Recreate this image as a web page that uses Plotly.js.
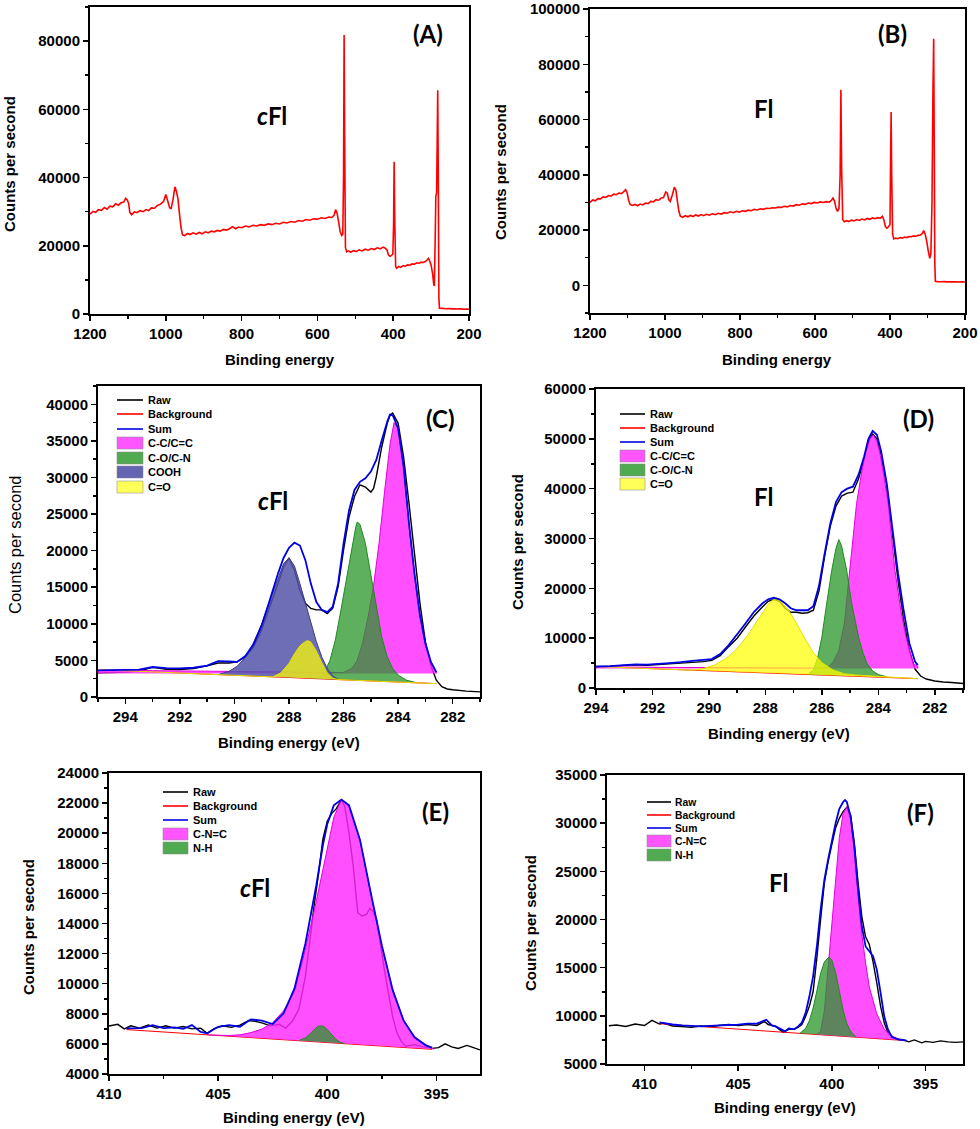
<!DOCTYPE html>
<html><head><meta charset="utf-8">
<script src="https://cdn.plot.ly/plotly-3.0.1.min.js"></script>
<style>html,body{margin:0;padding:0;background:#fff}#chart{width:980px;height:1129px}</style>
</head><body><div id="chart"></div>
<script>
// ---------- (A) cFl survey ----------
const A_E = [1200,1192,1185,1178,1170,1162,1155,1148,1140,1132,1125,1118,1111,1106,1102,1098,1095,1090,1083,1076,1068,1060,1052,1045,1038,1030,1022,1014,1006,1000,995,990,986,981,976,972,968,964,960,956,950,943,936,928,920,912,904,896,888,880,872,864,856,848,840,832,824,816,808,800,790,780,770,760,750,740,730,720,710,700,690,680,670,660,650,640,630,620,610,600,590,580,570,562,556,552,548,544,540,536,533,531,529.5,528,526,523,518,512,505,498,490,482,474,466,458,450,442,434,427,421,416,413,409,405,401,399,397.5,396,393.5,391,386,380,374,368,362,356,350,344,338,332,326,320,314,310,307,304,300,296,293,291.5,289.5,287.5,285.5,284,282.5,281,279.5,278,270,262,254,246,238,230,222,214,206,200];
const A_cps = [29300,30100,29800,30600,30400,31200,30700,31600,31400,32300,31900,32600,32800,33900,33500,32400,29800,29100,29900,29700,30300,30000,30600,30300,31100,31000,31800,32200,33000,35000,33200,31200,30800,33500,37300,36000,33800,29500,25500,23200,23000,23600,23300,23800,23400,23900,23500,24100,23800,24300,24100,24500,24300,24800,24600,25000,25600,25000,25500,25300,25800,25500,26000,25800,26200,26000,26400,26200,26600,26400,26900,26700,27100,26900,27400,27200,27700,27500,27900,27800,28200,28000,28400,28300,28900,30600,29500,27000,24200,23000,23400,40000,81800,50000,19500,18200,18500,18100,18600,18300,18800,18500,19000,18700,19200,18900,19400,19100,19600,19300,18700,17400,16900,17100,17600,26000,44600,28000,14000,13400,13900,13700,14200,14000,14400,14300,14700,14600,15000,14900,15200,15100,15500,15900,16300,15700,14300,11800,8600,8200,20000,34500,35500,50000,65600,40000,5000,1700,1650,1550,1600,1500,1550,1450,1500,1400,1450,1400];

// ---------- (B) Fl survey ----------
const B_E = [1200,1193,1186,1179,1172,1165,1158,1151,1144,1137,1130,1123,1116,1110,1105,1101,1097,1093,1087,1080,1073,1066,1059,1052,1045,1038,1031,1024,1017,1010,1004,998,994,990,986,981,975,971,967,963,959,953,946,939,932,925,918,911,904,897,890,882,874,866,858,850,842,834,826,818,810,802,794,786,778,770,762,754,746,738,730,722,714,706,698,690,682,674,666,658,650,642,634,626,618,610,602,594,586,578,570,562,556,552,548,544,540,536,533,531,529,526,522,516,510,503,496,489,482,475,468,461,454,447,440,433,426,420,416,412,408,404,400,398.5,397,395.5,393,390,385,379,373,367,361,355,349,343,337,331,325,319,314,310,306,302,298,294,291,288,285.5,283.5,282,280.5,279,272,264,256,248,240,232,224,216,208,200];
const B_cps = [30000,30900,30600,31400,31300,32000,31800,32500,32300,33000,32800,33400,33200,33900,34600,33500,30800,29300,28900,29300,28800,29400,29100,29800,29600,30400,30200,31000,30800,31600,31800,33800,33400,31000,30400,32500,35500,34500,30500,26800,25000,24600,25200,24800,25300,24900,25500,25100,25600,25200,25700,25400,25900,25600,26100,25800,26300,26100,26600,26300,26800,26500,27000,26800,27200,27000,27500,27300,27700,27500,27900,27800,28100,28000,28300,28200,28600,28400,28900,28700,29200,29000,29500,29300,29800,29600,30000,29800,30200,30000,30300,30100,30800,31600,30500,28000,26800,27800,40000,70800,42000,23800,23000,23400,23100,23600,23300,23800,23500,24000,23700,24200,23900,24400,24100,24500,24300,25000,23500,21200,20700,21200,22000,45000,62700,40000,18500,16800,17100,16900,17300,17100,17500,17300,17700,17600,17900,17800,18100,18200,18800,19800,18400,15800,12500,9800,11500,30000,70000,89200,50000,8000,1500,1350,1300,1350,1250,1300,1250,1300,1200,1250,1200];

// ---------- (C) cFl C1s ----------
const C_raw_E = [295,294.5,294,293.5,293,292.5,292,291.5,291,290.6,290.2,289.9,289.6,289.3,289.0,288.7,288.4,288.2,288.0,287.8,287.6,287.4,287.2,287.0,286.8,286.6,286.4,286.2,286.0,285.8,285.6,285.4,285.2,285.0,284.9,284.8,284.6,284.4,284.3,284.2,284.0,283.8,283.6,283.4,283.2,283.0,282.8,282.6,282.4,282.2,282.0,281.5,281];
const C_raw = [3300,3350,3400,3550,4050,3800,3750,3900,4250,4650,4650,4800,5500,6800,9200,12400,15500,17800,19000,17300,14600,12800,12100,11900,11900,11400,12100,15100,20100,24600,27400,29000,28700,28000,28500,30100,34200,37400,38500,38800,37400,32800,26400,19600,12800,7500,4300,2300,1400,1100,1000,800,700];
const C_sum_E = [295,294,293.5,293,292.5,292,291.5,291,290.6,290.2,289.9,289.6,289.3,289.0,288.7,288.4,288.2,288.0,287.8,287.6,287.4,287.2,287.0,286.8,286.6,286.4,286.2,286.0,285.8,285.6,285.4,285.2,285.0,284.8,284.6,284.4,284.3,284.2,284.0,283.8,283.6,283.4,283.2,283.0,282.8,282.6];
const C_sum = [3650,3700,3750,4100,3950,3900,4000,4300,4900,4850,4800,5600,7200,9800,13300,16900,19000,20400,21100,20700,18700,15500,13000,11900,11600,12300,15500,21000,25500,28300,29400,29900,30800,32400,35100,37600,38600,38500,36700,31500,23700,16900,11200,7300,4800,3400];
const C_bg_E = [295,282.6];
const C_bg = [3740,1824];
const C_cc_E = [295,295,293,291,289,287.5,286.5,286.0,285.7,285.5,285.3,285.1,284.9,284.7,284.5,284.3,284.15,284.0,283.8,283.6,283.4,283.2,283.0,282.8,282.6,282.6];
const C_cc = [3200,3700,3600,3500,3420,3350,3300,3350,3900,5000,7400,11000,15200,21000,28000,34500,37500,36700,31500,23300,16400,10900,7100,4800,3400,3200];
const C_co_E = [286.9,286.7,286.5,286.3,286.1,285.9,285.7,285.55,285.5,285.4,285.2,285.0,284.8,284.6,284.4,284.2,284.0,283.7,283.4];
const C_co = [2480,3300,5000,7800,11800,16200,20500,23300,23900,23600,21000,16900,12300,8200,5500,3900,3000,2300,2020];
const C_cooh_E = [290.6,290.2,289.9,289.6,289.3,289.0,288.7,288.4,288.2,288.0,287.8,287.6,287.4,287.2,287.0,286.8,286.6,286.4,286.2];
const C_cooh = [3050,3500,4200,5400,7400,10000,13200,16300,18200,19000,17900,15500,12800,10000,7600,5500,3900,2900,2400];
const C_cdo_E = [295,288.6,288.3,288.0,287.8,287.6,287.4,287.3,287.2,287.0,286.8,286.6,286.4,286.2,282.6];
const C_cdo = [3740,2750,3300,4600,5900,7000,7600,7700,7500,6300,4700,3300,2600,2380,1824];

// ---------- (D) Fl C1s ----------
const D_raw_E = [294,293.5,293,292.6,292.2,291.8,291.4,291,290.6,290.2,289.9,289.6,289.3,289.0,288.7,288.4,288.1,287.9,287.7,287.5,287.3,287.1,286.9,286.7,286.5,286.3,286.1,285.9,285.7,285.5,285.3,285.1,284.9,284.7,284.5,284.35,284.2,284.05,283.9,283.7,283.5,283.3,283.1,282.9,282.7,282.5,282.3,282.0,281.7,281.4,281];
const D_raw = [4300,4350,4550,4650,4550,4700,4850,5000,5150,5300,5550,6500,8300,10000,12300,14500,16300,17400,17800,17400,16000,15200,15200,15000,15100,15600,19500,26500,32500,36500,38500,39100,39300,42000,46000,49500,51000,50000,47000,40500,31000,21500,13500,7500,3800,2400,1800,1400,1200,1100,900];
const D_sum_E = [294,293.5,293,292.6,292.2,291.8,291.4,291,290.6,290.2,289.9,289.6,289.3,289.0,288.7,288.4,288.1,287.9,287.7,287.5,287.3,287.1,286.9,286.7,286.5,286.3,286.1,285.9,285.7,285.5,285.3,285.1,284.9,284.7,284.5,284.35,284.2,284.05,283.9,283.7,283.5,283.3,283.1,282.9,282.7,282.6];
const D_sum = [4300,4400,4600,4750,4700,4850,5000,5200,5450,5650,5800,6800,8600,10800,13000,15300,17000,17800,18100,17800,17000,16000,15600,15600,15600,16400,20500,27000,33000,37300,39300,40000,40400,42800,46500,50000,51600,50800,47500,41000,32000,23000,15500,9000,5300,4600];
const D_bg_E = [294,282.6];
const D_bg = [4300,1875];
const D_cc_E = [294,294,292,290,288,286.5,285.8,285.6,285.4,285.2,285.06,284.9,284.77,284.6,284.47,284.3,284.18,284.05,283.94,283.8,283.65,283.41,283.2,283.02,282.85,282.76,282.6,282.6];
const D_cc = [3900,4300,4150,4050,4000,4000,4000,5200,7500,13000,21000,29500,37000,43000,47000,50000,50800,49500,47000,42500,37000,23600,15500,10200,6800,4900,4300,3900];
const D_co_E = [286.5,286.3,286.15,286.0,285.83,285.65,285.5,285.4,285.3,285.12,284.94,284.7,284.55,284.4,284.2,284.0,283.7];
const D_co = [2700,3600,6000,10200,16900,23600,28000,29800,28500,23600,16900,10200,7200,4900,3400,2700,2250];
const D_cdo_E = [294,290.6,290.2,289.8,289.4,289.0,288.6,288.2,287.9,287.7,287.5,287.2,286.9,286.6,286.3,286.0,285.6,285.2,284.8,282.6];
const D_cdo = [4300,3580,3900,4600,5900,7900,10800,14300,16800,17900,17600,15800,13000,9900,7100,5100,3600,2850,2600,1875];

// ---------- (E) cFl N1s ----------
const E_raw_E = [410,409.6,409.3,409,408.6,408.2,407.8,407.4,407,406.6,406.2,405.8,405.5,405.2,404.8,404.4,404,403.6,403.3,403,402.6,402.2,401.9,401.6,401.3,401,400.8,400.6,400.4,400.2,400,399.8,399.6,399.35,399.2,399,398.8,398.6,398.4,398.2,398.05,397.9,397.75,397.6,397.4,397.2,397,396.8,396.6,396.4,396,395.6,395.2,394.9,394.6,394.3,394,393.6,393.3,393];
const E_raw = [7190,7300,7000,7200,7050,7250,7050,7200,7050,7150,7000,7050,6700,7000,7200,7100,7250,7550,7500,7400,7200,7300,7050,7500,8300,10500,12800,15200,17300,19600,20800,21300,21600,22200,21800,20000,17700,14700,14500,14600,15000,14800,14300,13000,11100,9400,7800,6700,6150,5850,5950,5800,5700,5750,6000,5800,5700,5900,5750,5600];
const E_sum_E = [409.2,408.5,408,407.5,407,406.6,406.2,405.8,405.5,405,404.5,404,403.5,403,402.5,402,401.5,401,400.5,400.2,400,399.7,399.35,399,398.5,398,397.5,397,396.5,396,395.5,395.2];
const E_sum = [7030,7050,7250,7050,7100,7000,7250,6800,6700,7140,7250,7140,7630,7540,7320,8030,9690,12670,16540,19200,20590,21850,22230,21850,19570,15990,12560,9570,7540,6430,5920,5750];
const E_bg_E = [409.2,395.2];
const E_bg = [6950,5640];
const E_cnc_E = [405.5,404.5,404.0,403.5,403.0,402.5,402.0,401.5,401.0,400.5,400.0,399.7,399.35,399.0,398.5,398.0,397.5,397.0,396.5,396.0,395.5,395.1];
const E_cnc = [6600,6560,6600,6750,6980,7400,8200,9500,12300,15500,18950,21050,22230,21750,19550,16000,12450,9600,7600,6500,5950,5640];
const E_nh_E = [401.3,401.0,400.8,400.6,400.45,400.3,400.15,400.0,399.8,399.6,399.4,399.2];
const E_nh = [6220,6400,6650,6950,7150,7200,7150,6950,6600,6300,6100,6020];

// ---------- (F) Fl N1s ----------
const F_raw_E = [411.9,411.5,411,410.5,410,409.6,409.2,409,408.5,408,407.5,407,406.5,406,405.5,405,404.5,404,403.6,403.4,403,402.6,402.3,402,401.8,401.6,401.4,401.2,401,400.8,400.6,400.4,400.2,400,399.8,399.6,399.4,399.2,399,398.8,398.6,398.4,398.2,398,397.8,397.6,397.4,397.2,397,396.6,396.2,395.9,395.6,395.2,395,394.6,394.2,393.8,393.4,393];
const F_raw = [8970,9050,8900,9150,9000,9530,9150,9250,8950,8900,8800,8950,8900,9000,9100,9000,9100,9000,9420,9100,8900,8280,8600,8650,8800,9100,9940,11000,12500,16000,20000,23800,26000,27800,29500,30500,31200,31650,30850,27900,23800,20300,18200,17400,15600,13400,11000,9250,8200,7600,7520,7300,7500,7200,7350,7250,7400,7300,7250,7300];
const F_sum_E = [409.2,408.5,408,407.5,407,406.5,406,405.5,405,404.5,404,403.5,403.2,403,402.5,402.3,402,401.8,401.6,401.4,401.2,401,400.8,400.6,400.4,400.2,400,399.8,399.6,399.4,399.3,399.2,399,398.8,398.6,398.4,398.2,398,397.8,397.6,397.4,397.2,397,396.8,396.4,396];
const F_sum = [9320,9100,9000,8950,8900,8950,9000,9050,9080,9200,9200,9600,9000,8900,8390,8700,8600,8900,9300,10300,12000,14100,17200,21000,24100,26200,28100,30000,31500,32200,32400,32200,30700,27600,23100,19300,17200,16700,16200,14800,12400,9900,8560,7800,7520,7420];
const F_bg_E = [409.2,396.0];
const F_bg = [9180,7420];
const F_cnc_E = [400.8,400.6,400.4,400.2,400.0,399.8,399.6,399.4,399.2,399.0,398.8,398.6,398.4,398.2,398.0,397.6,397.2,396.8,396.4,396.1];
const F_cnc = [8060,8400,10500,15000,20000,24500,28500,31000,31650,30500,27000,22500,18500,15500,13000,10200,8600,7900,7550,7430];
const F_nh_E = [401.7,401.4,401.2,401.0,400.8,400.6,400.4,400.16,400.0,399.8,399.6,399.4,399.2,399.0,398.7];
const F_nh = [8180,8700,9500,10800,12600,14400,15600,16090,15800,14500,12600,10600,9200,8400,7800];

// ---------- labels ----------
const panelLabels = ['(A)','(B)','(C)','(D)','(E)','(F)'];
const sampleLabels = ['<i>c</i>Fl','Fl','<i>c</i>Fl','Fl','<i>c</i>Fl','Fl'];
const yTitle = 'Counts per second';
const xTitles = ['Binding energy','Binding energy','Binding energy (eV)','Binding energy (eV)','Binding energy (eV)','Binding energy (eV)'];
const legC = ['Raw','Background','Sum','C-C/C=C','C-O/C-N','COOH','C=O'];
const legD = ['Raw','Background','Sum','C-C/C=C','C-O/C-N','C=O'];
const legE = ['Raw','Background','Sum','C-N=C','N-H'];
const legF = ['Raw','Background','Sum','C-N=C','N-H'];

// ---------- styling ----------
const W = 980, H = 1129;
const px = x => x / W, py = y => 1 - y / H;
const COL = {
  raw:'#000000', bg:'#ff0000', sum:'#0000e6', survey:'#ff0000',
  pink:{fill:'rgba(255,40,255,0.82)', line:'rgb(225,0,225)', key:'rgb(255,85,255)'},
  green:{fill:'rgba(40,150,40,0.75)', line:'rgb(30,140,30)', key:'rgb(80,170,80)'},
  cooh:{fill:'rgba(85,85,170,0.85)', line:'rgb(60,60,140)', key:'rgb(100,100,178)'},
  yellow:{fill:'rgba(255,255,0,0.72)', line:'rgb(225,225,0)', key:'rgb(255,255,90)'}
};
const P = {
  1:{l:90,r:469,t:7,b:314, xr:[1200,200], yr:[0,90000], xd:200, xm:100, yd:20000, ym:10000},
  2:{l:590,r:965,t:9,b:313, xr:[1200,200], yr:[-10000,100000], xd:200, xm:100, yd:20000, ym:10000},
  3:{l:98,r:480,t:386,b:697, xr:[295,281], yr:[0,42500], xd:2, xm:1, yd:5000, ym:2500},
  4:{l:596,r:963,t:389,b:688, xr:[294,281], yr:[0,60000], xd:2, xm:1, yd:10000, ym:5000},
  5:{l:109,r:480,t:773,b:1074, xr:[410,393], yr:[4000,24000], xd:5, xm:2.5, yd:2000, ym:1000},
  6:{l:607,r:963,t:775,b:1064, xr:[412,393], yr:[5000,35000], xd:5, xm:2.5, yd:5000, ym:2500}
};
const tickFont = {family:'Liberation Sans, Arial, sans-serif', size:15, color:'#000', weight:'bold'};

const layout = {
  width:W, height:H, margin:{l:0,r:0,t:0,b:0}, paper_bgcolor:'#fff', plot_bgcolor:'#fff',
  showlegend:false, annotations:[], shapes:[]
};
function baseAxis(p, letter){
  const isX = letter==='x';
  return {
    range: isX ? p.xr : p.yr, autorange:false, dtick: isX ? p.xd : p.yd, tick0: 0,
    domain: isX ? [px(p.l), px(p.r)] : [py(p.b), py(p.t)],
    showline:true, linecolor:'#000', linewidth:2, mirror:true,
    ticks:'outside', ticklen:5, tickwidth:1.5, tickcolor:'#000',
    minor:{ticks:'outside', ticklen:3, tickwidth:1.5, tickcolor:'#000', dtick: isX ? p.xm : p.ym, tick0:0, showgrid:false},
    showgrid:false, zeroline:false, tickfont:tickFont, tickformat:'d'
  };
}
for (let i=1;i<=6;i++){
  const p = P[i], s = i===1 ? '' : i;
  layout['xaxis'+s] = Object.assign(baseAxis(p,'x'), {anchor:'y'+s});
  layout['yaxis'+s] = Object.assign(baseAxis(p,'y'), {anchor:'x'+s});
}

const traces = [];
function ln(n, x, y, color, w){
  const s = n===1 ? '' : n;
  traces.push({type:'scatter', mode:'lines', x, y, xaxis:'x'+s, yaxis:'y'+s,
    line:{color, width:w, simplify:false}, hoverinfo:'skip'});
}
function area(n, x, y, c){
  const s = n===1 ? '' : n;
  traces.push({type:'scatter', mode:'lines', x, y, xaxis:'x'+s, yaxis:'y'+s,
    fill:'toself', fillcolor:c.fill, line:{color:c.line, width:1}, hoverinfo:'skip'});
}

// survey panels
ln(1, A_E, A_cps, COL.survey, 1.6);
ln(2, B_E, B_cps, COL.survey, 1.6);
// C
ln(3, C_raw_E, C_raw, COL.raw, 1.4);
ln(3, C_bg_E, C_bg, COL.bg, 1);
area(3, C_cc_E, C_cc, COL.pink);
area(3, C_co_E, C_co, COL.green);
area(3, C_cooh_E, C_cooh, COL.cooh);
area(3, C_cdo_E, C_cdo, COL.yellow);
ln(3, C_sum_E, C_sum, COL.sum, 1.8);
// D
ln(4, D_raw_E, D_raw, COL.raw, 1.4);
ln(4, D_bg_E, D_bg, COL.bg, 1);
area(4, D_cc_E, D_cc, COL.pink);
area(4, D_co_E, D_co, COL.green);
area(4, D_cdo_E, D_cdo, COL.yellow);
ln(4, D_sum_E, D_sum, COL.sum, 1.8);
// E
ln(5, E_raw_E, E_raw, COL.raw, 1.4);
ln(5, E_bg_E, E_bg, COL.bg, 1);
area(5, E_cnc_E, E_cnc, COL.pink);
area(5, E_nh_E, E_nh, COL.green);
ln(5, E_sum_E, E_sum, COL.sum, 1.8);
// F
ln(6, F_raw_E, F_raw, COL.raw, 1.4);
ln(6, F_bg_E, F_bg, COL.bg, 1);
area(6, F_cnc_E, F_cnc, COL.pink);
area(6, F_nh_E, F_nh, COL.green);
ln(6, F_sum_E, F_sum, COL.sum, 1.8);

// text helpers
function ann(text, x, y, opts){
  layout.annotations.push(Object.assign({text, x:px(x), y:py(y), xref:'paper', yref:'paper',
    showarrow:false, xanchor:'center', yanchor:'middle'}, opts||{}));
}
const labFont = {family:'Lato, Noto Sans, sans-serif', size:24, color:'#000', weight:'bold'};
const titleFont = {family:'Liberation Sans, Arial, sans-serif', size:15, color:'#000', weight:'bold'};
const titleFontC = {family:'Liberation Sans, Arial, sans-serif', size:16.5, color:'#000', weight:'normal'};
const labPos = [[428,33],[892,33],[440,418],[918,418],[435,811],[920,812]];
const samplePos = [[272,116],[763,108],[273,500],[763,496],[255,887],[778,882]];
const yTitlePos = [[9,164],[501,172],[15,545],[517,542],[28,927],[530,923]];
const xTitlePos = [[280,359],[777,359],[289,742],[779,733],[294,1117],[785,1107]];
for (let i=0;i<6;i++){
  ann(panelLabels[i], labPos[i][0], labPos[i][1], {font:labFont});
  ann(sampleLabels[i], samplePos[i][0], samplePos[i][1], {font:labFont});
  ann(yTitle, yTitlePos[i][0], yTitlePos[i][1], {font: i===2 ? titleFontC : titleFont, textangle:-90});
  ann(xTitles[i], xTitlePos[i][0], xTitlePos[i][1], {font:titleFont});
}

// manual legends (compact, as in the original figure)
function legend(names, kinds, x0, x1, xt, rows, fs){
  names.forEach((nm, k) => {
    const y = rows[k], kd = kinds[k];
    if (kd.box){
      layout.shapes.push({type:'rect', xref:'paper', yref:'paper', x0:px(x0), x1:px(x1), y0:py(y+6), y1:py(y-6),
        fillcolor:kd.box, line:{color:'rgba(140,140,140,0.7)', width:0.8}});
    } else {
      layout.shapes.push({type:'line', xref:'paper', yref:'paper', x0:px(x0), x1:px(x1), y0:py(y), y1:py(y),
        line:{color:kd.line, width:1.6}});
    }
    ann(nm, xt, y, {xanchor:'left', font:{family:'Liberation Sans, Arial, sans-serif', size:fs, color:'#000', weight:'bold'}});
  });
}
const kRaw={line:COL.raw}, kBg={line:COL.bg}, kSum={line:COL.sum};
const kPink={box:COL.pink.key}, kGreen={box:COL.green.key}, kCooh={box:COL.cooh.key}, kYellow={box:COL.yellow.key};
legend(legC, [kRaw,kBg,kSum,kPink,kGreen,kCooh,kYellow], 117,143,146, [400,414,429,443,458,472,487], 11);
legend(legD, [kRaw,kBg,kSum,kPink,kGreen,kYellow], 620,645,648, [414,428,442,456,470,484], 11);
legend(legE, [kRaw,kBg,kSum,kPink,kGreen], 163,188,191, [792,806,820,834,848], 11);
legend(legF, [kRaw,kBg,kSum,kPink,kGreen], 647,671,673, [802,815,828,841,855], 10.3);

Plotly.newPlot('chart', traces, layout, {staticPlot:true, displayModeBar:false});
</script>
</body></html>
